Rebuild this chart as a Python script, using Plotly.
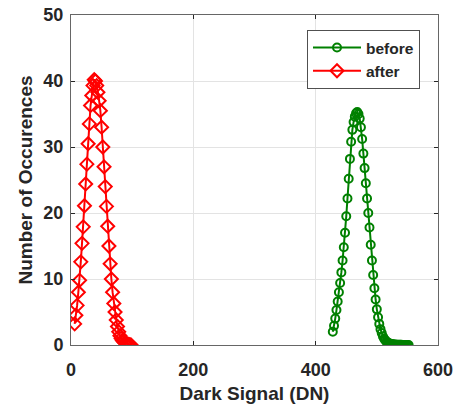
import plotly.graph_objects as go

# "after" (red) histogram
after_x = [6, 8, 10, 12, 14, 16, 18, 20, 22, 24, 26, 28, 30, 32, 34, 36, 38,
           40, 42, 44, 46, 48, 50, 52, 54, 56, 58, 60, 62, 64, 66, 68, 70, 72,
           74, 76, 78, 80, 82, 84, 86, 88, 90, 92, 94, 96, 98]
after_y = [3.2, 4.5, 6.0, 8.0, 9.8, 12.6, 15.4, 17.9, 21.1, 24.4, 27.4, 30.5, 33.5, 36.3, 37.8, 39.3, 40.2,
           40.0, 39.3, 38.3, 37.0, 35.5, 33.0, 30.0, 27.0, 24.0, 21.0, 18.0, 15.0, 12.3, 10.0, 8.0, 6.3, 5.0,
           3.8, 2.8, 2.0, 1.4, 1.0, 0.7, 0.5, 0.35, 0.25, 0.15, 0.1, 0.05, 0.02]

# "before" (green) histogram
before_x = [428, 430, 432, 434, 436, 438, 440, 442, 444, 446, 448, 450, 452, 454, 456, 458, 460,
            462, 464, 466, 468, 470, 472, 474, 476, 478, 480, 482, 484, 486, 488, 490, 492, 494,
            496, 498, 500, 502, 504, 506, 508, 510, 512, 514, 516, 518, 520, 522, 524, 526, 528,
            530, 532, 534, 536, 538, 540, 542, 544, 546, 548, 550, 552]
before_y = [2.0, 2.9, 4.0, 5.3, 6.6, 8.0, 9.4, 11.0, 12.8, 14.8, 17.0, 19.5, 22.2, 25.2, 28.2, 30.8, 32.6,
            33.8, 34.6, 35.1, 35.3, 35.0, 34.3, 33.0, 31.2, 29.0, 26.8, 24.5, 22.2, 20.0, 17.8, 15.2, 12.8, 10.6,
            8.6, 6.9, 5.4, 4.2, 3.2, 2.4, 1.8, 1.3, 0.95, 0.7, 0.5, 0.38, 0.28, 0.2, 0.15, 0.11, 0.08,
            0.06, 0.05, 0.04, 0.03, 0.02, 0.02, 0.01, 0.01, 0.01, 0.01, 0.0, 0.0]

x_ticks = [0, 200, 400, 600]
y_ticks = [0, 10, 20, 30, 40, 50]

GREEN = "#008000"
RED = "#FF0000"
FONT = "Liberation Sans, Arial, sans-serif"
TXT = "#262626"

fig = go.Figure()
fig.add_trace(go.Scatter(
    x=before_x, y=before_y, mode="lines+markers", name="before",
    line=dict(color=GREEN, width=2),
    marker=dict(symbol="circle-open", size=8, color=GREEN, line=dict(width=2, color=GREEN)),
))
fig.add_trace(go.Scatter(
    x=after_x, y=after_y, mode="lines+markers", name="after",
    line=dict(color=RED, width=2),
    marker=dict(symbol="diamond-open", size=10, color=RED, line=dict(width=2, color=RED)),
))

axis_common = dict(
    showline=True, linecolor="#666666", linewidth=1, mirror="ticks",
    ticks="inside", ticklen=4, tickcolor=TXT,
    showgrid=True, gridcolor="#e3e3e3", gridwidth=1, zeroline=False,
    automargin=False,
    tickfont=dict(family=FONT, size=18, color=TXT, weight="bold"),
)

fig.update_layout(
    width=456, height=404,
    margin=dict(l=71, r=18, t=15, b=59),
    paper_bgcolor="white", plot_bgcolor="white",
    showlegend=True,
    legend=dict(
        x=(307 - 71) / 367, y=(345 - 30) / 330, xanchor="left", yanchor="top",
        bgcolor="white", bordercolor="#505050", borderwidth=1,
        font=dict(family=FONT, size=15.5, color=TXT, weight="bold"),
        itemwidth=48, tracegroupgap=0,
    ),
    xaxis=dict(range=[0, 600], tickvals=x_ticks, ticklabelstandoff=8,
               title=dict(text="Dark Signal (DN)", standoff=8,
                          font=dict(family=FONT, size=19, color=TXT, weight="bold")),
               **axis_common),
    yaxis=dict(range=[0, 50], tickvals=y_ticks, ticklabelstandoff=3,
               title=dict(text="Number of Occurences", standoff=5,
                          font=dict(family=FONT, size=19, color=TXT, weight="bold")),
               **axis_common),
)

fig.write_html("out.html", config={"displayModeBar": False},
               post_script="document.body.style.margin='0';")
